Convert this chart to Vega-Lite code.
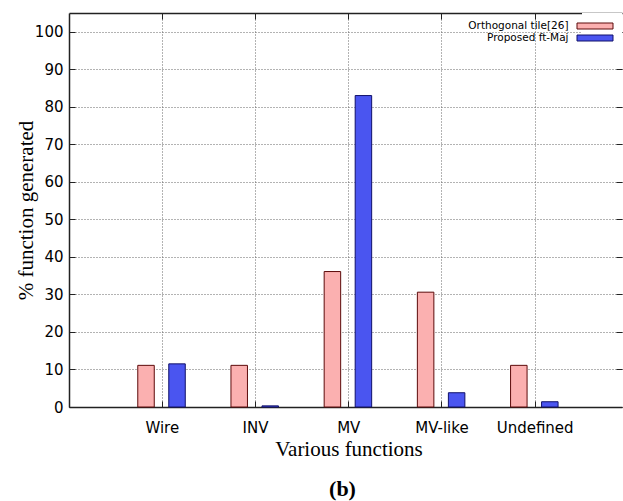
{
  "$schema": "https://vega.github.io/schema/vega-lite/v6.json",
  "width": 553,
  "height": 394,
  "autosize": "none",
  "padding": {"left": 69, "top": 13, "right": 1, "bottom": 94},
  "background": "white",
  "title": {"text": "(b)", "orient": "bottom", "anchor": "middle", "font": "Liberation Serif", "fontSize": 22, "fontWeight": "bold", "color": "black", "offset": 20, "dx": -3},
  "data": {
    "values": [
      {"category": "Wire", "series": "Orthogonal tile[26]", "value": 11.1},
      {"category": "Wire", "series": "Proposed ft-Maj", "value": 11.5},
      {"category": "INV", "series": "Orthogonal tile[26]", "value": 11.1},
      {"category": "INV", "series": "Proposed ft-Maj", "value": 0.3},
      {"category": "MV", "series": "Orthogonal tile[26]", "value": 36.1},
      {"category": "MV", "series": "Proposed ft-Maj", "value": 83.0},
      {"category": "MV-like", "series": "Orthogonal tile[26]", "value": 30.6},
      {"category": "MV-like", "series": "Proposed ft-Maj", "value": 3.8},
      {"category": "Undefined", "series": "Orthogonal tile[26]", "value": 11.1},
      {"category": "Undefined", "series": "Proposed ft-Maj", "value": 1.4}
    ]
  },
  "config": {
    "view": {"stroke": null},
    "font": "DejaVu Sans",
    "axis": {
      "domainColor": "#222", "domainWidth": 1.5, "tickColor": "#222", "tickWidth": 1,
      "labelColor": "black", "titleColor": "black",
      "gridColor": "#666", "gridDash": [1, 2], "gridWidth": 1, "gridOpacity": 1,
      "labelFont": "DejaVu Sans", "labelFontSize": 15,
      "titleFont": "Liberation Serif", "titleFontSize": 21, "titleFontWeight": "normal"
    },
    "legend": {
      "orient": "none", "legendX": 513, "legendY": 0, "padding": 6.5, "fillColor": "white",
      "symbolType": "M-3,-0.5H3V0.5H-3Z", "symbolSize": 144, "symbolStrokeWidth": 1,
      "rowPadding": 0,
      "labelAlign": "right", "labelOffset": -33, "labelFont": "DejaVu Sans", "labelFontSize": 10.5,
      "labelColor": "black", "labelLimit": 0, "labelBaseline": "middle"
    }
  },
  "layer": [
    {
      "mark": {"type": "bar", "strokeWidth": 1},
      "encoding": {
        "x": {
          "field": "category", "type": "nominal",
          "sort": ["Wire", "INV", "MV", "MV-like", "Undefined"],
          "scale": {"type": "band", "domain": ["Wire", "INV", "MV", "MV-like", "Undefined"], "paddingInner": 0, "paddingOuter": 0.4667, "align": 0.537},
          "axis": {
            "orient": "bottom", "bandPosition": 0.5, "grid": true, "tickSize": -6, "labelPadding": 19, "labelAngle": 0,
            "title": "Various functions", "titleX": 279.5, "titleY": 48, "titleBaseline": "alphabetic", "titleAlign": "center"
          }
        },
        "xOffset": {
          "field": "series", "type": "nominal",
          "scale": {"domain": ["Orthogonal tile[26]", "Proposed ft-Maj"], "paddingInner": 0.468, "paddingOuter": 0.737, "align": 0.4825}
        },
        "y": {
          "field": "value", "type": "quantitative",
          "scale": {"domain": [0, 105], "nice": false, "zero": true},
          "axis": {
            "orient": "left", "values": [0, 10, 20, 30, 40, 50, 60, 70, 80, 90, 100], "grid": true, "tickSize": -6, "labelPadding": 12,
            "title": "% function generated", "titleX": -37, "titleY": 197, "titleAngle": -90, "titleBaseline": "alphabetic", "titleAlign": "center"
          }
        },
        "fill": {
          "field": "series", "type": "nominal",
          "scale": {"domain": ["Orthogonal tile[26]", "Proposed ft-Maj"], "range": ["#fbb0b0", "#4a55f0"]},
          "legend": {"title": null}
        },
        "stroke": {
          "field": "series", "type": "nominal",
          "scale": {"domain": ["Orthogonal tile[26]", "Proposed ft-Maj"], "range": ["#5c0a0a", "#10106a"]},
          "legend": {"title": null}
        }
      }
    },
    {
      "mark": {"type": "bar", "opacity": 0},
      "encoding": {
        "x": {
          "field": "category", "type": "nominal",
          "sort": ["Wire", "INV", "MV", "MV-like", "Undefined"],
          "axis": {"orient": "top", "bandPosition": 0.5, "grid": false, "labels": false, "title": null, "tickSize": -6, "domain": true}
        },
        "xOffset": {"field": "series", "type": "nominal"},
        "y": {
          "field": "value", "type": "quantitative",
          "axis": {"orient": "right", "values": [0, 10, 20, 30, 40, 50, 60, 70, 80, 90, 100], "grid": false, "labels": false, "title": null, "tickSize": -6, "domain": false}
        }
      }
    }
  ],
  "resolve": {"axis": {"x": "independent", "y": "independent"}}
}
